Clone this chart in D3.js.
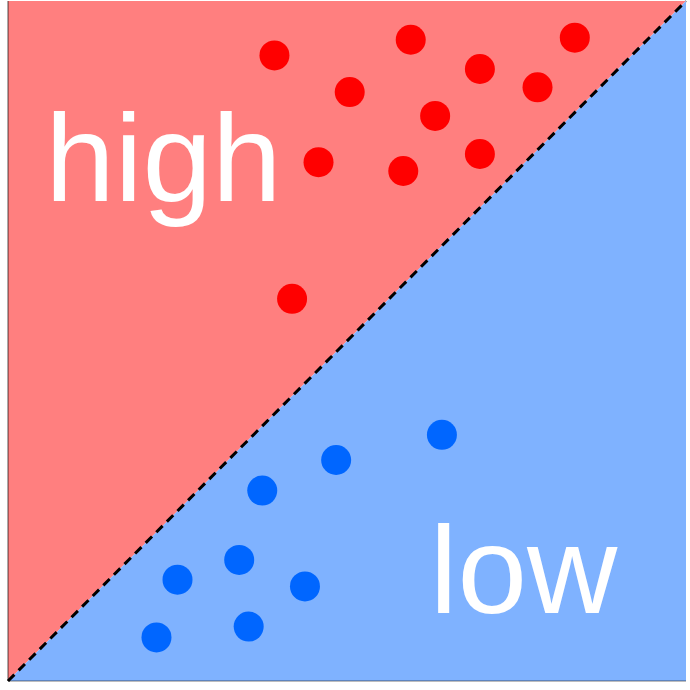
<!DOCTYPE html>
<html>
<head>
<meta charset="utf-8">
<script src="https://cdn.jsdelivr.net/npm/d3@7"></script>
<style>
  body { margin: 0; background: #fff; }
  svg { display: block; }
</style>
</head>
<body>
<div id="chart"></div>
<script>
// points above the diagonal (x, y in 0..1)
const highX = [0.393, 0.594, 0.836, 0.696, 0.781, 0.504, 0.630, 0.458, 0.583, 0.696, 0.419];
const highY = [0.920, 0.943, 0.946, 0.900, 0.873, 0.866, 0.831, 0.763, 0.750, 0.775, 0.562];
// points below the diagonal
const lowX = [0.640, 0.484, 0.375, 0.341, 0.250, 0.438, 0.219, 0.355];
const lowY = [0.362, 0.325, 0.280, 0.178, 0.149, 0.139, 0.064, 0.080];
const labels = ["high", "low"];
const labelX = [0.055, 0.622];
const labelY = [0.706, 0.100];

const width = 690, height = 690;
const margin = { top: 1, right: 4, bottom: 9, left: 8 };
const w = width - margin.left - margin.right,
    h = height - margin.top - margin.bottom;

const x = d3.scaleLinear().domain([0, 1]).range([0, w]);
const y = d3.scaleLinear().domain([0, 1]).range([h, 0]);

const svg = d3.select("#chart").append("svg")
    .attr("width", width)
    .attr("height", height);

const g = svg.append("g")
    .attr("transform", `translate(${margin.left},${margin.top})`);

// upper-left region
g.append("path")
    .attr("fill", "#ff7f7f")
    .attr("d", d3.line()([[x(0), y(0)], [x(0), y(1)], [x(1), y(1)]]) + "Z");

// lower-right region
g.append("path")
    .attr("fill", "#7fb2ff")
    .attr("d", d3.line()([[x(0), y(0)], [x(1), y(1)], [x(1), y(0)]]) + "Z");

// spines
g.append("line")
    .attr("x1", x(0)).attr("x2", x(0))
    .attr("y1", y(0)).attr("y2", y(1))
    .attr("stroke", "#000").attr("stroke-opacity", 0.45).attr("stroke-width", 1.5);
g.append("line")
    .attr("x1", x(0)).attr("x2", x(1))
    .attr("y1", y(0)).attr("y2", y(0))
    .attr("stroke", "#000").attr("stroke-opacity", 0.35).attr("stroke-width", 1.5);

// diagonal
g.append("line")
    .attr("x1", x(0)).attr("y1", y(0))
    .attr("x2", x(1)).attr("y2", y(1))
    .attr("stroke", "#000")
    .attr("stroke-width", 3)
    .attr("stroke-dasharray", "9,6");

g.append("g")
    .selectAll("circle")
    .data(d3.zip(highX, highY))
    .enter()
    .append("circle")
    .attr("cx", d => x(d[0]))
    .attr("cy", d => y(d[1]))
    .attr("r", 15)
    .attr("fill", "#ff0000");

g.append("g")
    .selectAll("circle")
    .data(d3.zip(lowX, lowY))
    .enter()
    .append("circle")
    .attr("cx", d => x(d[0]))
    .attr("cy", d => y(d[1]))
    .attr("r", 15)
    .attr("fill", "#0066ff");

g.append("g")
    .selectAll("text")
    .data(labels)
    .enter()
    .append("text")
    .attr("x", (d, i) => x(labelX[i]))
    .attr("y", (d, i) => y(labelY[i]))
    .style("font-family", "'Liberation Sans', Arial, sans-serif")
    .style("font-size", "125px")
    .attr("fill", "#fff")
    .text(d => d);
</script>
</body>
</html>
